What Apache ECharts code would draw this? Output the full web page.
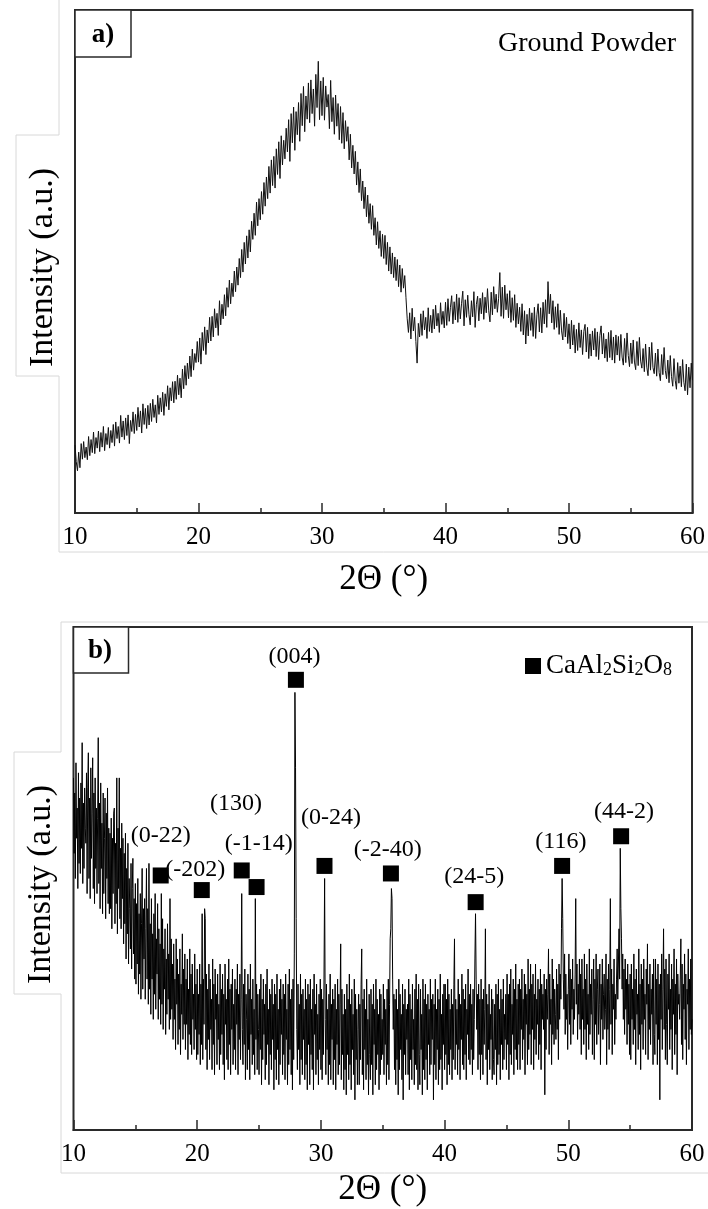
<!DOCTYPE html>
<html>
<head>
<meta charset="utf-8">
<script src="https://cdn.jsdelivr.net/npm/echarts@6/dist/echarts.min.js"></script>
<style>
html,body{margin:0;padding:0;background:#fff;}
#chart{width:708px;height:1209px;}
</style>
</head>
<body>
<div id="chart"></div>
<script>
// 2θ sampling grids (degrees)
const twoThetaStart = 10;
const stepA = 0.1;    // panel a) sampling step
const stepB = 0.05;   // panel b) sampling step
const xTickValues = [10, 20, 30, 40, 50, 60];

// panel a) ground powder, intensity (a.u.), one value per 0.1° from 10° to 60°
const groundPowder = [
13.5,10.2,8.4,12.1,9.0,13.8,10.7,14.2,11.0,13.1,
10.6,15.2,11.4,14.6,12.0,16.1,11.8,15.0,12.9,16.3,
12.2,16.0,13.1,17.2,12.4,15.8,13.6,17.0,12.9,16.4,
14.0,17.6,13.3,18.1,14.8,17.2,13.9,19.4,15.1,18.3,
14.6,18.9,15.4,19.5,13.8,18.4,16.2,20.1,15.8,19.6,
16.4,21.0,17.1,20.3,15.9,21.7,17.6,20.8,16.8,21.4,
17.5,21.8,18.2,22.6,19.0,21.5,17.9,23.4,19.6,22.9,
20.1,24.0,19.4,23.7,21.2,25.3,20.5,24.9,22.3,26.1,
21.9,26.2,22.6,27.4,23.5,26.8,22.9,28.6,24.7,29.3,
25.4,29.8,26.7,31.2,27.1,32.6,28.4,31.7,29.9,34.1,
30.0,34.8,29.6,35.9,32.3,37.0,31.5,36.4,33.8,38.9,
34.2,39.1,35.0,40.6,36.8,39.7,35.3,42.2,37.4,41.5,
38.6,43.4,39.2,44.8,40.9,46.3,41.6,45.7,43.0,48.1,
44.0,48.9,45.3,50.6,46.8,52.4,47.9,53.8,49.5,55.1,
50.7,56.3,51.9,58.0,54.4,59.6,55.2,61.8,57.1,62.5,
58.3,63.9,59.4,65.7,61.0,66.8,62.5,68.9,63.6,70.2,
65.1,70.9,64.6,72.4,67.3,73.8,66.5,75.0,69.2,74.1,
70.4,76.5,71.8,78.2,69.9,79.4,73.6,80.7,72.1,79.8,
75.2,81.6,73.9,83.4,77.0,84.8,75.8,82.9,78.3,85.5,
77.6,86.1,79.4,84.3,76.9,87.2,80.6,89.8,78.2,85.9,
79.0,86.6,78.1,84.9,80.7,83.2,76.4,86.0,77.8,82.6,
75.3,83.1,76.9,81.4,74.2,80.8,73.5,79.6,72.4,78.0,
73.9,76.8,70.2,75.3,68.6,73.1,67.4,71.9,65.2,69.8,
63.7,68.4,62.1,66.0,60.5,64.8,58.9,63.2,57.6,61.5,
56.4,61.1,55.2,58.7,53.3,57.9,52.6,56.1,51.0,55.4,
50.6,55.2,49.4,53.8,48.1,52.9,47.5,51.7,46.8,50.9,
46.2,50.4,45.0,49.3,43.9,48.6,44.7,47.2,42.8,38.6,
35.9,39.8,34.6,40.7,36.2,38.9,34.1,29.8,37.7,35.0,
39.6,35.3,40.2,36.4,38.9,34.7,40.8,36.1,39.3,35.8,
40.5,36.6,41.3,37.2,39.7,35.9,41.8,37.5,40.1,36.8,
41.9,37.3,42.6,38.1,40.9,43.2,37.6,42.0,38.4,43.5,
37.9,42.8,38.6,41.7,44.1,37.2,42.4,38.9,43.3,39.5,
37.4,42.2,39.0,44.0,36.9,41.5,43.1,38.2,42.7,39.6,
43.8,38.5,42.9,39.8,44.6,40.2,38.0,43.9,39.4,45.0,
40.6,43.5,39.9,42.7,47.8,39.1,44.9,38.7,45.3,40.4,
43.6,38.8,44.2,37.9,42.8,38.3,43.4,36.9,41.7,37.6,
40.9,36.1,41.6,35.4,40.2,33.6,39.5,35.2,40.7,36.3,
39.8,35.1,40.9,34.7,39.4,41.6,36.0,40.8,35.8,41.9,
37.6,42.4,36.9,46.0,39.6,43.5,37.8,42.2,36.5,41.0,
36.9,41.6,35.5,40.3,36.2,34.4,39.7,35.0,38.9,33.7,
37.6,32.6,38.3,33.4,37.4,31.8,36.5,32.3,37.8,32.9,
36.4,31.5,36.1,37.5,32.0,36.9,30.7,35.6,31.2,36.2,
32.4,36.7,31.1,36.0,30.5,35.3,37.2,31.6,35.7,30.8,
34.6,30.1,35.9,30.9,36.3,30.4,35.0,29.8,35.4,31.4,
35.1,30.3,35.5,31.0,29.4,34.7,29.9,35.8,31.3,29.1,
33.8,29.7,34.4,30.0,28.5,34.1,29.3,34.9,30.2,28.8,
32.7,28.1,33.6,29.0,27.3,33.0,28.4,33.9,28.9,27.7,
31.8,27.2,32.6,27.9,26.3,31.5,27.5,32.9,28.3,26.7,
30.4,25.9,31.3,27.1,25.2,30.7,26.4,24.6,29.9,25.8,
29.2,25.1,30.5,26.0,24.3,29.6,23.5,29.0,24.9,29.8,
26.4
];

// panel b) crystallized sample, intensity (a.u.), one value per 0.05° from 10° to 60°
const crystallized = [
70,55,67,50,73,58,64,48,71,53,66,51,69,56,77,49,65,52,68,60,
57,71,47,68,75,50,66,46,72,54,63,74,48,67,45,70,52,64,47,62,
78,49,65,44,69,52,61,43,67,47,58,66,42,63,50,68,45,60,43,59,
44,62,40,58,47,63,64,41,57,45,70,39,60,48,70,42,56,40,61,46,
58,37,55,41,59,34,52,39,57,33,50,44,36,53,32,48,54,35,46,30,
49,29,45,33,50,27,43,31,47,26,41,52,28,44,34,46,26,40,52,30,
44,25,53,28,41,23,46,30,39,22,43,27,47,24,38,31,45,22,40,26,
37,21,47,25,42,20,36,28,40,19,34,23,41,26,35,20,46,22,38,24,
33,18,37,22,30,16,38,25,34,17,31,20,36,15,29,23,39,18,32,21,
35,16,30,21,34,14,28,19,36,17,31,15,33,22,27,16,35,20,29,14,
32,15,27,19,33,13,29,17,43,14,30,21,44,42,16,31,12,28,18,33,
14,30,20,26,12,34,17,29,11,32,22,27,13,31,18,25,12,33,15,28,
19,31,13,27,10,33,21,26,14,30,12,34,17,28,11,29,20,32,13,25,
16,30,12,28,21,33,11,27,18,31,14,26,47,20,13,29,17,32,10,27,
22,12,31,16,28,10,33,19,26,13,30,15,24,11,46,18,29,12,27,20,
11,28,16,31,9,26,14,30,19,25,10,29,13,32,17,24,9,28,15,27,
12,30,18,25,8,29,14,27,10,31,16,24,9,28,13,30,19,26,11,29,
15,27,10,31,18,24,9,29,13,32,16,26,11,28,8,30,14,35,87,72,
42,20,12,29,16,25,9,31,14,27,11,28,18,24,10,30,13,26,8,29,
17,27,9,30,15,24,12,28,8,31,19,25,11,29,14,23,9,27,16,30,
12,28,10,26,15,30,50,22,11,29,16,24,9,27,13,31,10,25,18,28,
9,26,14,29,8,24,17,30,11,27,13,25,37,10,28,15,23,8,27,12,
24,7,29,15,26,10,31,13,25,8,28,16,23,11,30,6,27,14,24,9,
20,27,9,25,14,29,36,11,26,8,28,16,24,10,30,13,22,7,27,15,
10,28,13,25,7,29,17,24,9,30,12,26,15,23,8,28,11,27,14,22,
15,29,11,26,17,24,9,28,13,30,10,25,38,40,48,46,30,20,27,12,
26,9,28,14,24,7,30,12,27,16,23,10,29,6,25,15,28,11,24,18,
25,11,30,8,27,14,24,10,29,16,22,9,28,13,31,12,26,8,29,15,
9,28,16,23,7,30,12,26,10,29,14,25,8,27,17,24,11,30,13,26,
18,27,6,25,13,30,10,24,16,28,9,26,12,31,14,23,8,27,17,29,
12,29,15,26,9,30,13,27,11,24,16,28,10,25,14,29,38,12,26,17,
24,11,30,16,27,10,25,18,31,13,28,12,26,15,29,10,24,19,32,14,
27,13,29,16,25,11,28,14,22,34,43,30,20,27,12,29,15,26,10,30,
15,26,11,28,17,24,40,14,27,9,25,16,29,12,23,18,28,10,26,14,
11,25,16,29,9,27,13,30,15,24,10,28,17,26,12,30,14,23,18,27,
12,31,17,27,10,29,15,32,13,25,19,30,11,28,16,33,14,26,12,29,
17,30,12,28,20,32,14,26,18,31,11,29,21,27,13,34,16,28,19,33,
13,29,20,31,12,27,18,33,15,26,21,30,14,28,17,32,12,29,22,27,
20,31,7,28,16,30,22,27,36,15,31,21,26,13,34,19,30,17,28,23,
18,32,20,29,14,33,22,31,26,40,50,42,30,24,35,19,31,22,27,16,
28,35,21,32,17,30,24,34,19,28,22,31,46,25,33,18,29,23,34,20,
31,15,34,22,28,17,35,20,30,14,33,21,27,16,36,19,29,23,32,15,
26,34,14,30,21,35,17,28,32,19,25,33,13,29,22,34,18,27,31,20,
24,35,13,30,20,33,16,28,46,21,32,15,29,24,34,17,27,22,30,36,
26,33,40,30,56,44,38,28,35,22,32,19,34,24,30,17,33,21,29,15,
31,14,33,22,28,17,35,20,30,13,32,23,27,16,36,19,29,12,33,21,
30,16,34,22,27,15,32,25,37,14,29,20,33,17,28,23,31,13,34,19,
15,34,21,30,13,33,18,29,6,31,22,35,16,28,40,20,32,14,34,21,
13,31,24,35,16,28,20,33,12,30,23,36,15,29,19,34,11,31,25,27,
22,30,38,17,33,14,29,24,35,18,31,13,28,25,36,16,30,20,34,19,
22
];

// CaAl2Si2O8 reflections: marker position (2θ, intensity) and Miller-index label anchor
const peakLabels = ['(0-22)', '(-202)', '(130)', '(-1-14)', '(004)', '(0-24)', '(-2-40)', '(24-5)', '(116)', '(44-2)'];
const peakX      = [17.05, 20.37, 23.6, 24.8, 27.98, 30.29, 35.66, 42.51, 49.5, 54.27];
const peakY      = [50.6, 47.7, 51.6, 48.3, 89.5, 52.5, 51.0, 45.3, 52.5, 58.4];
const labelX     = [17.06, 19.85, 23.13, 24.97, 27.87, 30.82, 35.4, 42.4, 49.4, 54.5];
const labelY     = [58.6, 51.7, 64.9, 57.0, 94.1, 62.0, 55.7, 50.4, 57.3, 63.3];

const FONT = '"Liberation Serif", "Times New Roman", serif';
const toPairs = (arr, step) => arr.map((v, i) => [+(twoThetaStart + i * step).toFixed(2), v]);

function xAxisFor(gridIndex, nameGap) {
  return {
    gridIndex, type: 'value', min: 10, max: 60, interval: 10,
    name: '2\u0398 (\u00b0)', nameLocation: 'middle', nameGap,
    nameTextStyle: {fontFamily: FONT, fontSize: 35, color: '#000'},
    axisLine: {show: true, lineStyle: {color: '#2a2a2a', width: 2}},
    axisTick: {show: true, inside: true, length: 10, lineStyle: {color: '#2a2a2a', width: 1.5}},
    minorTick: {show: true, splitNumber: 2, length: 5, lineStyle: {color: '#2a2a2a', width: 1.5}},
    axisLabel: {fontFamily: FONT, fontSize: 25, color: '#000', margin: 12,
      formatter: v => xTickValues.includes(v) ? String(v) : ''},
    splitLine: {show: false}
  };
}
function yAxisFor(gridIndex) {
  return {
    gridIndex, type: 'value', min: 0, max: 100,
    name: 'Intensity (a.u.)', nameLocation: 'middle', nameGap: 15,
    nameTextStyle: {fontFamily: FONT, fontSize: 34, color: '#000', padding: [0, 12, 0, 0]},
    axisLine: {show: false}, axisTick: {show: false}, axisLabel: {show: false},
    splitLine: {show: false}
  };
}

const gray = '#d8d8d8';
const chart = echarts.init(document.getElementById('chart'), null, {renderer: 'canvas'});
chart.setOption({
  animation: false,
  backgroundColor: '#fff',
  grid: [
    {left: 75, top: 10, width: 619, height: 503, show: true, borderColor: '#2a2a2a', borderWidth: 2, backgroundColor: 'transparent'},
    {left: 73.5, top: 627, width: 618.5, height: 503, show: true, borderColor: '#2a2a2a', borderWidth: 2, backgroundColor: 'transparent'}
  ],
  xAxis: [xAxisFor(0, 49), xAxisFor(1, 42)],
  yAxis: [yAxisFor(0), yAxisFor(1)],
  legend: {
    data: [{name: 'CaAl2Si2O8', icon: 'rect'}],
    left: 520, top: 647, itemWidth: 16, itemHeight: 16, itemGap: 5,
    selectedMode: false,
    formatter: () => '{n|CaAl}{s|2}{n|Si}{s|2}{n|O}{s|8}',
    textStyle: {
      fontFamily: FONT, color: '#000', padding: [0, 0, 0, 0],
      rich: {
        n: {fontFamily: FONT, fontSize: 27, color: '#000', lineHeight: 26, verticalAlign: 'bottom'},
        s: {fontFamily: FONT, fontSize: 18, color: '#000', lineHeight: 6, verticalAlign: 'bottom'}
      }
    }
  },
  graphic: [
    {type: 'polyline', silent: true, z: 0, shape: {points: [[59, 0], [59, 135], [16, 135], [16, 376], [59, 376], [59, 552], [708, 552]]}, style: {stroke: gray, fill: null, lineWidth: 1}},
    {type: 'polyline', silent: true, z: 0, shape: {points: [[708, 622], [61, 622], [61, 752], [14, 752], [14, 994], [61, 994], [61, 1173], [708, 1173]]}, style: {stroke: gray, fill: null, lineWidth: 1}},
    {type: 'rect', silent: true, z: 10, shape: {x: 75, y: 10, width: 56, height: 47}, style: {fill: '#fff', stroke: '#2a2a2a', lineWidth: 1.5}},
    {type: 'text', silent: true, z: 11, x: 103, y: 35, style: {text: 'a)', font: 'bold 27px ' + FONT, fill: '#000', align: 'center', verticalAlign: 'middle'}},
    {type: 'rect', silent: true, z: 10, shape: {x: 73.5, y: 627, width: 55, height: 46}, style: {fill: '#fff', stroke: '#2a2a2a', lineWidth: 1.5}},
    {type: 'text', silent: true, z: 11, x: 100, y: 651, style: {text: 'b)', font: 'bold 27px ' + FONT, fill: '#000', align: 'center', verticalAlign: 'middle'}},
    {type: 'text', silent: true, z: 11, x: 676, y: 44, style: {text: 'Ground Powder', font: '28px ' + FONT, fill: '#000', align: 'right', verticalAlign: 'middle'}}
  ],
  series: [
    {type: 'line', name: 'Ground Powder', xAxisIndex: 0, yAxisIndex: 0, data: toPairs(groundPowder, stepA),
      showSymbol: false, symbol: 'none', silent: true, lineStyle: {color: '#111', width: 1}},
    {type: 'line', name: 'b', xAxisIndex: 1, yAxisIndex: 1, data: toPairs(crystallized, stepB),
      showSymbol: false, symbol: 'none', silent: true, lineStyle: {color: '#000', width: 1}},
    {type: 'scatter', name: 'CaAl2Si2O8', xAxisIndex: 1, yAxisIndex: 1, symbol: 'rect', symbolSize: 16,
      itemStyle: {color: '#000', opacity: 1}, silent: true, z: 5,
      data: peakX.map((x, i) => [x, peakY[i]])},
    {type: 'scatter', name: 'labels', xAxisIndex: 1, yAxisIndex: 1, symbolSize: 0, silent: true, z: 6,
      itemStyle: {opacity: 1},
      data: labelX.map((x, i) => [x, labelY[i], peakLabels[i]]),
      label: {show: true, position: 'inside', formatter: p => p.data[2], fontFamily: FONT, fontSize: 24, color: '#000', opacity: 1}}
  ]
});
</script>
</body>
</html>
